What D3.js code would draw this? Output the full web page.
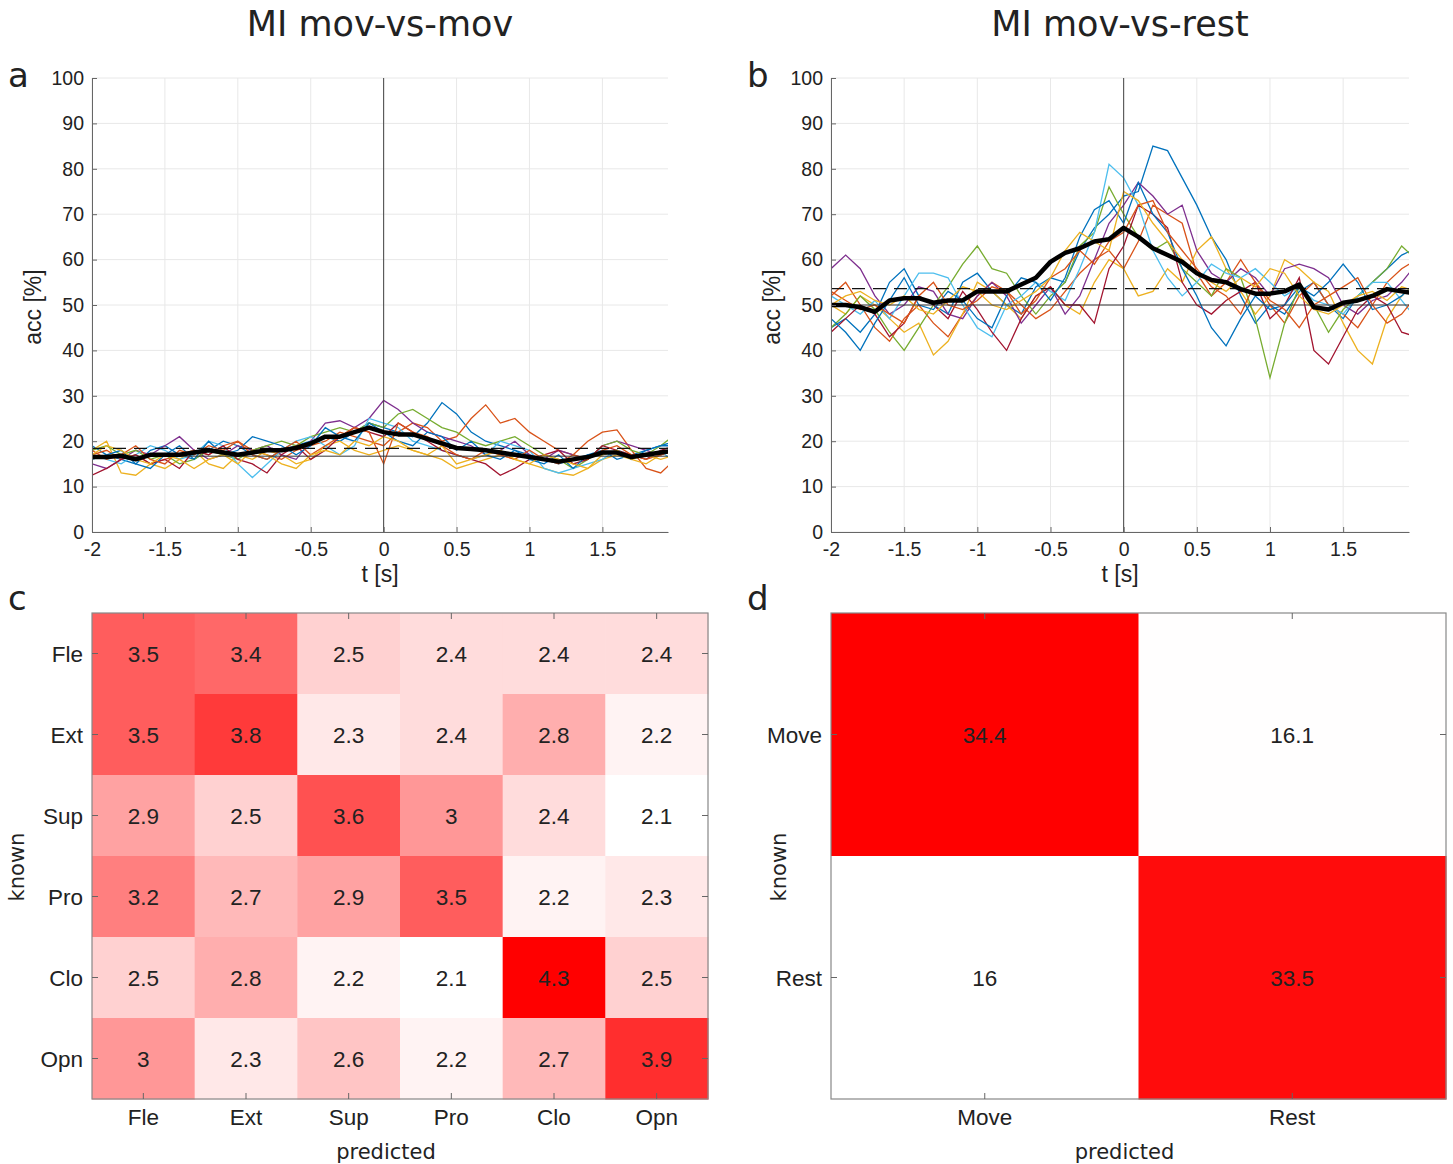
<!DOCTYPE html>
<html>
<head>
<meta charset="utf-8">
<script src="https://cdn.jsdelivr.net/npm/d3@7"></script>
<style>
  body { margin: 0; background: #fff; }
  text { fill: #222; }
</style>
</head>
<body>
<div id="chart"></div>
<script>
// time axis: 41 samples, -2 .. 2 s
const times = d3.range(41).map((i) => -2 + i * 0.1);
const xTicks = [-2, -1.5, -1, -0.5, 0, 0.5, 1, 1.5];
const yTicks = [0, 10, 20, 30, 40, 50, 60, 70, 80, 90, 100];
const lineColors = ["#0072BD", "#D95319", "#EDB120", "#7E2F8E", "#77AC30", "#4DBEEE", "#A2142F"];

// panel a: mov-vs-mov, single subjects
const movSubjects = [
  [19,17,16,15,18,19,17,16,18,20,19,17,16,18,19,20,21,20,22,24,23,22,21,24,28.5,26,22,20,19,18,17,16,15,16,17,18,16,17,18,19,19],
  [17,18,16,17,15,16,17,18,17,19,20,18,17,16,18,19,20,22,21,20,19,22,24,23,20,21,25,28,24,25,22,20,18,17,20,22,22.5,18,14,13,16],
  [18,20,13,12.5,15,14,16,18,15,14,17,16,18,17,15,16,19,20,18,17,18,19,18,17,16,14,15,16,17,16,15,14,13,12.5,14,16,17,16,15,17,18],
  [15,14,16,18,17,19,21,18,16,17,19,18,19,17,16,20,24,24.5,23,25,29,27,24,22,21,20,19,17,18,20,17,16,18,17,16,19,20,19,18,17,18],
  [18,19,17,18,16,17,15,16,18,17,16,18,19,20,19,21,22,23,22,24,23,26,27,25,23,22,20,19,20,21,19,17,16,14,16,19,20,18,17,19,21.5],
  [17,16,15,17,19,18,16,17,20,19,15,12,15,18,20,21,19,17,19,25,24,23,20,19,18,17,16,17,20,19,18,14,13,14,15,16,18,17,16,18,15],
  [12.5,14,16,17,15,16,14,18,17,19,16,15,13,17,19,16,18,21,23,22,21,24,22,20,18,17,16,15,12.5,14,16,17,18,15,16,19,18,17,16,18,19],
  [16,17,18,15,14,17,19,16,20,17,18,21,20,19,17,19,23,21,20,24,22,20,19,22,21,18,20,17,16,18,16,15,17,14,17,17,18,16,18,19,20],
  [18,16,17,19,16,15,18,17,19,18,20,17,16,18,20,17,19,21,23,22,15,24,22,21,19,17,16,18,17,16,18,16,15,17,16,18,19,17,16,17,18],
  [17,19,18,16,15,17,16,14,16,17,15,18,17,15,14,17,18,17,20,19,21,20,18,17,19,15,16,17,18,16,15,17,16,15,14,17,18,16,17,16,17]
];
const movMean = [16.5,16.5,16.8,16,17,17,17,17.5,18,17.5,17,17.5,18,18,18.5,19.5,21,21,22,23,22,21.5,21.5,20.5,19.5,18.5,18.3,18,17.5,17,16.5,16,15.5,16,16.5,17.5,17.5,16.5,17,17.5,18];
const movChance = 16.7;
const movSignif = 18.4;

// panel b: mov-vs-rest, single subjects
const restSubjects = [
  [45,47,44,48,55,58,52,50,48,55,57,53,50,48,54,56,55,62,67,70,74,75,85,84,78,72,65,60,52,46,50,48,53,55,50,47,52,55,58,61,62.5],
  [52,55,50,45,42,47,50,46,43,48,52,55,53,50,47,49,53,57,60,62,58,64,72,70,68,57,52,55,60,55,50,46,52,55,50,48,45,50,55,58,60],
  [50,48,52,50,47,44,46,39,42,48,55,53,50,47,52,54,50,48,55,60,58,52,53,58,55,62,65,58,53,48,52,60,58,55,53,46,40,37,47,52,55],
  [58,61,58,52,48,50,54,53,48,47,52,55,52,46,50,54,48,52,60,68,72,77,74,70,72,62,57,55,58,56,52,58,59,58,56,50,48,51,52,55,59],
  [45,48,52,49,44,40,45,50,54,59,63,58,57,52,48,52,55,63,66,76,70,65,62,64,58,55,52,58,56,47,34,46,54,50,44,49,52,55,58,63,60],
  [52,50,48,51,47,52,57,57,56,50,45,43,50,52,55,53,51,58,66,81,78,72,62,56,52,55,59,57,56,58,55,52,54,51,50,48,52,55,55,51,47],
  [44,47,50,48,43,46,52,50,47,53,49,44,40,47,52,54,50,50,46,58,63,72,70,67,55,50,48,51,53,55,47,50,56,40,37,43,49,52,50,44,43],
  [47,44,40,46,51,56,50,49,53,51,47,45,52,56,55,51,56,65,71,73,68,77,70,66,58,52,45,41,47,52,49,50,54,52,55,59,55,49,50,52,55],
  [53,51,49,50,48,46,52,55,50,49,51,54,53,48,51,56,58,62,59,64,66,72,73,66,62,58,54,52,48,55,51,49,45,50,52,54,56,50,46,48,52],
  [50,52,53,51,50,52,49,48,51,54,53,50,49,51,53,56,62,66,64,62,75,73,68,64,60,57,55,53,56,54,58,57,52,49,48,50,52,53,51,54,53]
];
const restMean = [50,50,49.5,48.5,51,51.5,51.5,50.5,51,51,53,53,53,54.5,56,59.5,61.5,62.5,64,64.5,67,65,62.5,61,59.5,57,55.5,55,53.5,52.5,52.5,53,54.5,49.5,49,50.5,51,52,53.5,53,52.5];
const restChance = 50;
const restSignif = 53.6;

// panel c: confusion matrix, 6 movements
const movClasses = ["Fle", "Ext", "Sup", "Pro", "Clo", "Opn"];
const movConfusion = [
  [3.5, 3.4, 2.5, 2.4, 2.4, 2.4],
  [3.5, 3.8, 2.3, 2.4, 2.8, 2.2],
  [2.9, 2.5, 3.6, 3, 2.4, 2.1],
  [3.2, 2.7, 2.9, 3.5, 2.2, 2.3],
  [2.5, 2.8, 2.2, 2.1, 4.3, 2.5],
  [3, 2.3, 2.6, 2.2, 2.7, 3.9]
];

// panel d: confusion matrix, move vs rest
const restClasses = ["Move", "Rest"];
const restConfusion = [
  [34.4, 16.1],
  [16, 33.5]
];

const svg = d3.select("#chart").append("svg")
  .attr("width", 1453).attr("height", 1164)
  .style("font-family", "'Liberation Sans', Arial, sans-serif");

const fontTitle = "'DejaVu Sans', sans-serif";
const fontNarrow = "'Liberation Sans Narrow', 'Liberation Sans', sans-serif";

function linePanel(box, subjects, mean, chance, signif, title, letter, id) {
  const x = d3.scaleLinear().domain([-2, 1.95]).range([box.l, box.r]);
  const y = d3.scaleLinear().domain([0, 100]).range([box.b, box.t]);
  const g = svg.append("g");

  g.append("clipPath").attr("id", id)
    .append("rect").attr("x", box.l).attr("y", box.t)
    .attr("width", box.r - box.l).attr("height", box.b - box.t);

  // grid
  g.append("g").selectAll("line").data(yTicks).join("line")
    .attr("x1", box.l).attr("x2", box.r)
    .attr("y1", (d) => y(d)).attr("y2", (d) => y(d))
    .attr("stroke", "#e8e8e8");
  g.append("g").selectAll("line").data(xTicks).join("line")
    .attr("x1", (d) => x(d)).attr("x2", (d) => x(d))
    .attr("y1", box.t).attr("y2", box.b)
    .attr("stroke", "#e8e8e8");

  const line = d3.line().x((d, i) => x(times[i])).y((d) => y(d));
  const plot = g.append("g").attr("clip-path", `url(#${id})`);

  plot.selectAll("path.subj").data(subjects).join("path")
    .attr("class", "subj")
    .attr("d", line)
    .attr("fill", "none")
    .attr("stroke", (d, i) => lineColors[i % lineColors.length])
    .attr("stroke-width", 1.3);

  // reference lines
  plot.append("line")
    .attr("x1", x(0)).attr("x2", x(0)).attr("y1", box.t).attr("y2", box.b)
    .attr("stroke", "#444").attr("stroke-width", 1);
  plot.append("line")
    .attr("x1", box.l).attr("x2", box.r).attr("y1", y(chance)).attr("y2", y(chance))
    .attr("stroke", "#333").attr("stroke-width", 1);
  plot.append("line")
    .attr("x1", box.l).attr("x2", box.r).attr("y1", y(signif)).attr("y2", y(signif))
    .attr("stroke", "#111").attr("stroke-width", 1.3)
    .attr("stroke-dasharray", "13,8");

  plot.append("path").datum(mean)
    .attr("d", line)
    .attr("fill", "none")
    .attr("stroke", "#000")
    .attr("stroke-width", 4.5)
    .attr("stroke-linejoin", "round");

  // axes
  const yAxis = d3.axisLeft(y).tickValues(yTicks).tickSize(-5).tickSizeOuter(0).tickPadding(8);
  const xAxis = d3.axisBottom(x).tickValues(xTicks).tickSize(-5).tickSizeOuter(0).tickPadding(10)
    .tickFormat((d) => String(d));

  const ya = g.append("g").attr("transform", `translate(${box.l},0)`).call(yAxis);
  const xa = g.append("g").attr("transform", `translate(0,${box.b})`).call(xAxis);
  [ya, xa].forEach((a) => {
    a.selectAll("path,line").attr("stroke", "#666");
    a.selectAll("text").attr("font-size", 19.5).attr("fill", "#222")
      .style("font-family", "'Liberation Sans', Arial, sans-serif");
  });

  g.append("text").attr("transform", `translate(${box.l - 51},${(box.t + box.b) / 2 + 2}) rotate(-90)`)
    .attr("text-anchor", "middle").attr("font-size", 23).text("acc [%]");
  g.append("text").attr("x", (box.l + box.r) / 2).attr("y", box.b + 50)
    .attr("text-anchor", "middle").attr("font-size", 23).text("t [s]");

  g.append("text").attr("x", (box.l + box.r) / 2).attr("y", 36)
    .attr("text-anchor", "middle").attr("font-size", 35)
    .style("font-family", fontTitle).text(title);
  g.append("text").attr("x", box.l - 84).attr("y", 87)
    .attr("font-size", 34).style("font-family", fontTitle).text(letter);
}

function heatPanel(box, classes, matrix, letter, knownOffset) {
  const flat = matrix.flat();
  const color = d3.scaleLinear().domain([d3.min(flat), d3.max(flat)])
    .range(["#ffffff", "#ff0000"]).interpolate(d3.interpolateRgb);
  const x = d3.scaleBand().domain(classes).range([box.l, box.r]);
  const y = d3.scaleBand().domain(classes).range([box.t, box.b]);
  const g = svg.append("g");

  const cells = matrix.flatMap((row, i) => row.map((v, j) => ({ r: classes[i], c: classes[j], v })));
  g.selectAll("rect.cell").data(cells).join("rect")
    .attr("class", "cell")
    .attr("x", (d) => x(d.c)).attr("y", (d) => y(d.r))
    .attr("width", x.bandwidth() + 0.5).attr("height", y.bandwidth() + 0.5)
    .attr("fill", (d) => color(d.v));
  g.selectAll("text.val").data(cells).join("text")
    .attr("class", "val")
    .attr("x", (d) => x(d.c) + x.bandwidth() / 2)
    .attr("y", (d) => y(d.r) + y.bandwidth() / 2)
    .attr("dy", "0.36em")
    .attr("text-anchor", "middle").attr("font-size", 22.5)
    .style("font-family", fontNarrow).attr("fill", "#000")
    .text((d) => d.v);

  // frame
  g.append("rect").attr("x", box.l).attr("y", box.t)
    .attr("width", box.r - box.l).attr("height", box.b - box.t)
    .attr("fill", "none").attr("stroke", "#888").attr("stroke-width", 1.2);

  const xc = (d) => x(d) + x.bandwidth() / 2;
  const yc = (d) => y(d) + y.bandwidth() / 2;
  const ticks = g.append("g").attr("stroke", "#666");
  classes.forEach((d) => {
    ticks.append("line").attr("x1", xc(d)).attr("x2", xc(d)).attr("y1", box.t).attr("y2", box.t + 6);
    ticks.append("line").attr("x1", xc(d)).attr("x2", xc(d)).attr("y1", box.b).attr("y2", box.b - 6);
    ticks.append("line").attr("y1", yc(d)).attr("y2", yc(d)).attr("x1", box.l).attr("x2", box.l + 6);
    ticks.append("line").attr("y1", yc(d)).attr("y2", yc(d)).attr("x1", box.r).attr("x2", box.r - 6);
  });

  g.selectAll("text.xl").data(classes).join("text")
    .attr("class", "xl").attr("x", xc).attr("y", box.b + 26)
    .attr("text-anchor", "middle").attr("font-size", 22.5)
    .style("font-family", fontNarrow).text((d) => d);
  g.selectAll("text.yl").data(classes).join("text")
    .attr("class", "yl").attr("x", box.l - 9).attr("y", yc).attr("dy", "0.36em")
    .attr("text-anchor", "end").attr("font-size", 22.5)
    .style("font-family", fontNarrow).text((d) => d);

  g.append("text").attr("x", (box.l + box.r) / 2 - 14).attr("y", box.b + 60)
    .attr("text-anchor", "middle").attr("font-size", 21)
    .style("font-family", fontTitle).text("predicted");
  g.append("text").attr("transform", `translate(${box.l - knownOffset},${(box.t + box.b) / 2 + 11}) rotate(-90)`)
    .attr("text-anchor", "middle").attr("font-size", 21)
    .style("font-family", fontTitle).text("known");
  g.append("text").attr("x", box.l - 84).attr("y", 610)
    .attr("font-size", 34).style("font-family", fontTitle).text(letter);
}

linePanel({ l: 92, r: 668, t: 78, b: 532 }, movSubjects, movMean, movChance, movSignif, "MI mov-vs-mov", "a", "clipA");
linePanel({ l: 831, r: 1409, t: 78, b: 532 }, restSubjects, restMean, restChance, restSignif, "MI mov-vs-rest", "b", "clipB");
heatPanel({ l: 92, r: 708, t: 613, b: 1099 }, movClasses, movConfusion, "c", 68);
heatPanel({ l: 831, r: 1446, t: 613, b: 1099 }, restClasses, restConfusion, "d", 45);
</script>
</body>
</html>
